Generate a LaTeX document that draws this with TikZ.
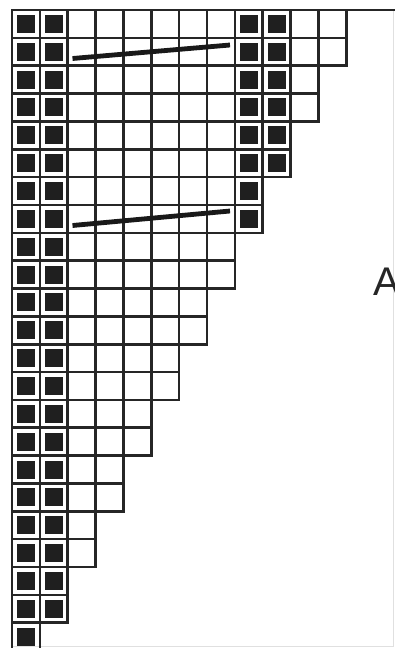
\documentclass[tikz,border=0pt]{standalone}
\usepackage{fontspec}
\setsansfont{Liberation Sans}
\begin{document}
\begin{tikzpicture}[x=1pt,y=-1pt,
  gridline/.style={line width=2.6pt, draw=black!85},
  blackcell/.style={fill=black!88},
  slantbar/.style={line width=4.8pt, draw=black!90},
  faintframe/.style={line width=1pt, draw=black!12}]
\useasboundingbox (0,0) rectangle (395,648);
\clip (0,0) rectangle (395,648);
\def\p{27.85}
% faint outer frame
\draw[faintframe] (12,646) -- (393,646) -- (393,10);
% grid
\foreach \r/\n in {0/12,1/12,2/11,3/11,4/10,5/10,6/9,7/9,8/8,9/8,10/7,11/7,12/6,13/6,14/5,15/5,16/4,17/4,18/3,19/3,20/2,21/2,22/1} {
  \foreach \c in {1,...,\n} {
    \draw[gridline] ({12+(\c-1)*\p},{10+\r*\p}) rectangle ++(\p,\p);
  }
}
% frame lines
\draw[gridline] (12,10) -- (395,10);
\draw[gridline] (12,10) -- (12,648);
% black squares
\newcommand{\bsq}[2]{\fill[blackcell] ({12+(#1+0.5)*\p-9},{10+(#2+0.5)*\p-9}) rectangle ++(18,18);}
\foreach \r in {0,...,21} { \bsq{0}{\r} \bsq{1}{\r} }
\bsq{0}{22}
\foreach \r in {0,...,5} { \bsq{8}{\r} \bsq{9}{\r} }
\bsq{8}{6} \bsq{8}{7}
% slanted bars
\draw[slantbar] (72.5,58.5) -- (230,45);
\draw[slantbar] (72.5,225.5) -- (230,211);
% label
\node[anchor=base west, font=\sffamily\fontsize{40}{40}\selectfont, text=black!85, inner sep=0pt] (lblA) at (373,295) {A};
\end{tikzpicture}
\end{document}
